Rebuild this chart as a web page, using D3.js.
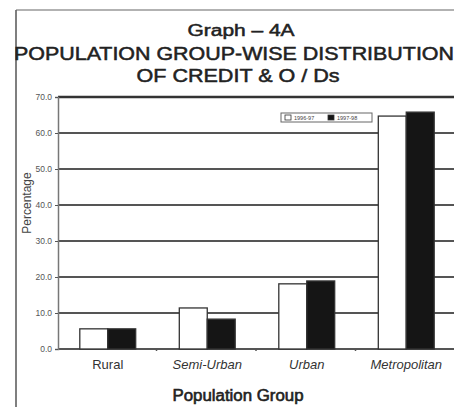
<!DOCTYPE html>
<html>
<head>
<meta charset="utf-8">
<script src="https://cdn.jsdelivr.net/npm/d3@7"></script>
<style>
  html, body { margin: 0; padding: 0; background: #fff; }
  svg { display: block; font-family: "Liberation Sans", Arial, sans-serif; }
</style>
</head>
<body>
<svg id="chart" width="454" height="407"></svg>
<script>
// Population groups and their share (%) of credit in two years
const categories = ["Rural", "Semi-Urban", "Urban", "Metropolitan"];
const seriesNames = ["1996-97", "1997-98"];
const values1996 = [5.6, 11.4, 18.1, 64.7];
const values1997 = [5.6, 8.3, 18.9, 65.8];
const yTicks = [0, 10, 20, 30, 40, 50, 60, 70];

const svg = d3.select("#chart");
const W = 454, H = 407;
const plot = { left: 58, right: 456, top: 97, bottom: 349 };

// outer frame (left and top edge of the page box)
svg.append("line").attr("x1", 16).attr("x2", 16).attr("y1", 10).attr("y2", H)
  .attr("stroke", "#555").attr("stroke-width", 1.5);
svg.append("line").attr("x1", 16).attr("x2", W).attr("y1", 10).attr("y2", 10)
  .attr("stroke", "#666").attr("stroke-width", 1.2);

// titles (regular face with a thin outline for a medium weight)
const titles = [
  { t: "Graph \u2013 4A", y: 36, x: 241, size: 16, len: 107 },
  { t: "POPULATION GROUP-WISE DISTRIBUTION", y: 60, x: 234, size: 18, len: 440 },
  { t: "OF CREDIT & O / Ds", y: 82, x: 238, size: 18, len: 203 }
];
titles.forEach(d => {
  svg.append("text").attr("x", d.x).attr("y", d.y).attr("text-anchor", "middle")
    .attr("font-size", d.size).attr("fill", "#222")
    .attr("stroke", "#222").attr("stroke-width", 0.5)
    .attr("textLength", d.len).attr("lengthAdjust", "spacingAndGlyphs")
    .text(d.t);
});

const x = d3.scaleBand().domain(categories).range([plot.left, plot.right]).padding(0);
const xInner = d3.scaleBand().domain(seriesNames).range([0, x.bandwidth()])
  .paddingOuter(0.78).paddingInner(0).align(0.5);
const y = d3.scaleLinear().domain([0, 70]).range([plot.bottom, plot.top]);

// gridlines
svg.append("g").selectAll("line").data(yTicks).join("line")
  .attr("x1", plot.left).attr("x2", W)
  .attr("y1", d => y(d)).attr("y2", d => y(d))
  .attr("stroke", d => d === 70 ? "#333" : "#555")
  .attr("stroke-width", d => d === 70 ? 2.5 : 1.8);

// y axis
const yAxis = d3.axisLeft(y).tickValues(yTicks).tickFormat(d3.format(".1f")).tickSize(3);
const gy = svg.append("g").attr("transform", `translate(${plot.left},0)`).call(yAxis);
gy.select(".domain").attr("stroke", "#777").attr("stroke-width", 1.5);
gy.selectAll(".tick line").attr("stroke", "#555");
gy.selectAll(".tick text").attr("font-size", 8.5).attr("fill", "#555")
  .attr("font-family", "'Liberation Sans', Arial, sans-serif");

// x axis (ticks between groups)
const xAxis = d3.axisBottom(x).tickSize(0).tickFormat("");
const gx = svg.append("g").attr("transform", `translate(0,${plot.bottom})`).call(xAxis);
gx.select(".domain").remove();
gx.selectAll(".between").data(categories.slice(1)).join("line")
  .attr("x1", d => x(d) - 1).attr("x2", d => x(d) - 1)
  .attr("y1", 0).attr("y2", 2).attr("stroke", "#555").attr("stroke-width", 1.5);

// bars
const groups = svg.append("g").selectAll("g").data(categories).join("g")
  .attr("transform", d => `translate(${x(d)},0)`);
const fills = ["#fff", "#151515"];
groups.selectAll("rect")
  .data((d, i) => [values1996[i], values1997[i]].map((v, k) => ({ v, k })))
  .join("rect")
  .attr("x", d => xInner(seriesNames[d.k]))
  .attr("width", xInner.bandwidth())
  .attr("y", d => y(d.v))
  .attr("height", d => y(0) - y(d.v))
  .attr("fill", d => fills[d.k])
  .attr("stroke", "#333").attr("stroke-width", 1.3);

// category labels
svg.append("g").selectAll("text").data(categories).join("text")
  .attr("x", d => x(d) + x.bandwidth() / 2)
  .attr("y", 369)
  .attr("text-anchor", "middle")
  .attr("font-size", 13)
  .attr("font-style", d => d === "Rural" ? "normal" : "italic")
  .attr("fill", "#333")
  .text(d => d);

// axis titles
svg.append("text").attr("x", 238).attr("y", 401).attr("text-anchor", "middle")
  .attr("font-size", 16).attr("fill", "#222")
  .attr("stroke", "#222").attr("stroke-width", 0.6)
  .attr("textLength", 131).attr("lengthAdjust", "spacingAndGlyphs")
  .text("Population Group");
svg.append("text").attr("transform", "translate(31,203) rotate(-90)")
  .attr("text-anchor", "middle").attr("font-size", 12).attr("fill", "#444")
  .text("Percentage");

// legend
const lg = svg.append("g").attr("transform", "translate(281,113)");
lg.append("rect").attr("width", 91).attr("height", 9).attr("fill", "#fff")
  .attr("stroke", "#666").attr("stroke-width", 1);
seriesNames.forEach((s, k) => {
  const ox = 4 + k * 43;
  lg.append("rect").attr("x", ox).attr("y", 2).attr("width", 6).attr("height", 5)
    .attr("fill", fills[k]).attr("stroke", "#333").attr("stroke-width", 0.8);
  lg.append("text").attr("x", ox + 9).attr("y", 7).attr("font-size", 5.5)
    .attr("fill", "#444").text(s);
});
</script>
</body>
</html>
